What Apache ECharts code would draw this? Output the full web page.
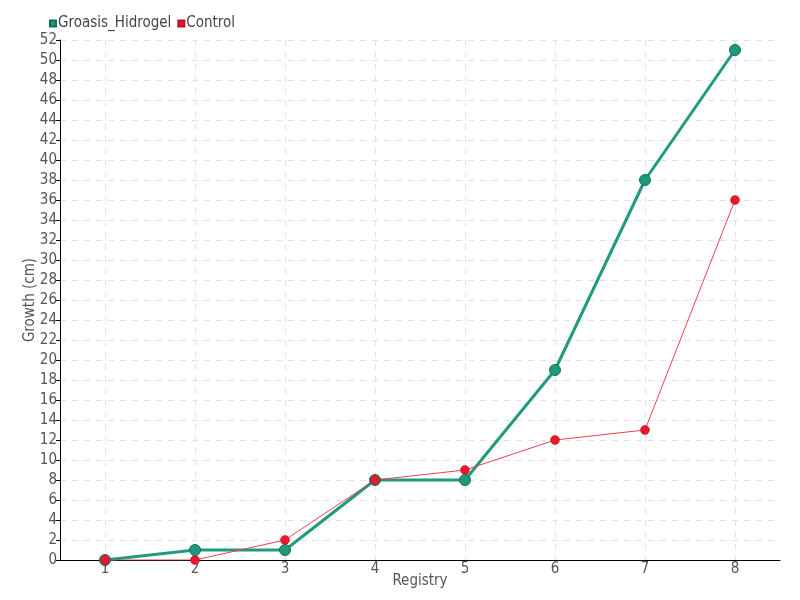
<!DOCTYPE html>
<html><head><meta charset="utf-8">
<script src="https://cdn.jsdelivr.net/npm/echarts@6/dist/echarts.min.js"></script>
<style>html,body{margin:0;padding:0;background:#fff}#c{width:800px;height:600px}</style>
</head><body><div id="c"></div>
<script>
const categories = ['1','2','3','4','5','6','7','8'];
const groasis = [0, 1, 1, 8, 8, 19, 38, 51];
const control = [0, 0, 2, 8, 9, 12, 13, 36];
const seriesNames = ['Groasis_Hidrogel', 'Control'];

const font = "'Liberation Sans Narrow', 'DejaVu Sans Condensed', sans-serif";
const chart = echarts.init(document.getElementById('c'));
chart.setOption({
  animation: false,
  textStyle: { fontFamily: font },
  legend: {
    left: 44, top: 11, itemWidth: 6, itemHeight: 6, itemGap: 6,
    icon: 'rect',
    textStyle: { fontFamily: font, fontSize: 15, color: '#444', padding: [0,0,0,-3] },
    data: seriesNames
  },
  grid: { left: 60, right: 20, top: 40, bottom: 40, outerBoundsMode: 'none', containLabel: false },
  xAxis: {
    type: 'category', data: categories, boundaryGap: true,
    name: 'Registry', nameLocation: 'middle', nameGap: 14, nameMoveOverlap: false,
    nameTextStyle: { fontFamily: font, fontSize: 15, color: '#555' },
    axisLine: { lineStyle: { color: '#000' } },
    axisTick: { show: false },
    axisLabel: { fontFamily: font, fontSize: 15, color: '#555', margin: 2 },
    splitLine: { show: true, alignWithLabel: true, lineStyle: { type: [6,6], color: '#e3e3e3' } }
  },
  yAxis: {
    type: 'value', min: 0, max: 52, interval: 2,
    name: 'Growth (cm)', nameLocation: 'middle', nameGap: 22, nameMoveOverlap: false,
    nameTextStyle: { fontFamily: font, fontSize: 15, color: '#555' },
    axisLine: { show: true, lineStyle: { color: '#000' } },
    axisTick: { show: true, length: 4, lineStyle: { color: '#000' } },
    axisLabel: { fontFamily: font, fontSize: 15, color: '#555', margin: 3 },
    splitLine: { show: true, lineStyle: { type: [6,6], color: '#e3e3e3' } }
  },
  series: [
    {
      name: seriesNames[0], type: 'line', data: groasis,
      symbol: 'circle', symbolSize: 11,
      itemStyle: { color: '#1b9a7c', borderColor: '#166e58', borderWidth: 1 },
      lineStyle: { width: 3, color: '#1f9c7e' }
    },
    {
      name: seriesNames[1], type: 'line', data: control,
      symbol: 'circle', symbolSize: 9,
      itemStyle: { color: '#e8192c', borderColor: '#c01020', borderWidth: 0.5 },
      lineStyle: { width: 1, color: '#f0404e' }
    }
  ]
});
</script></body></html>
